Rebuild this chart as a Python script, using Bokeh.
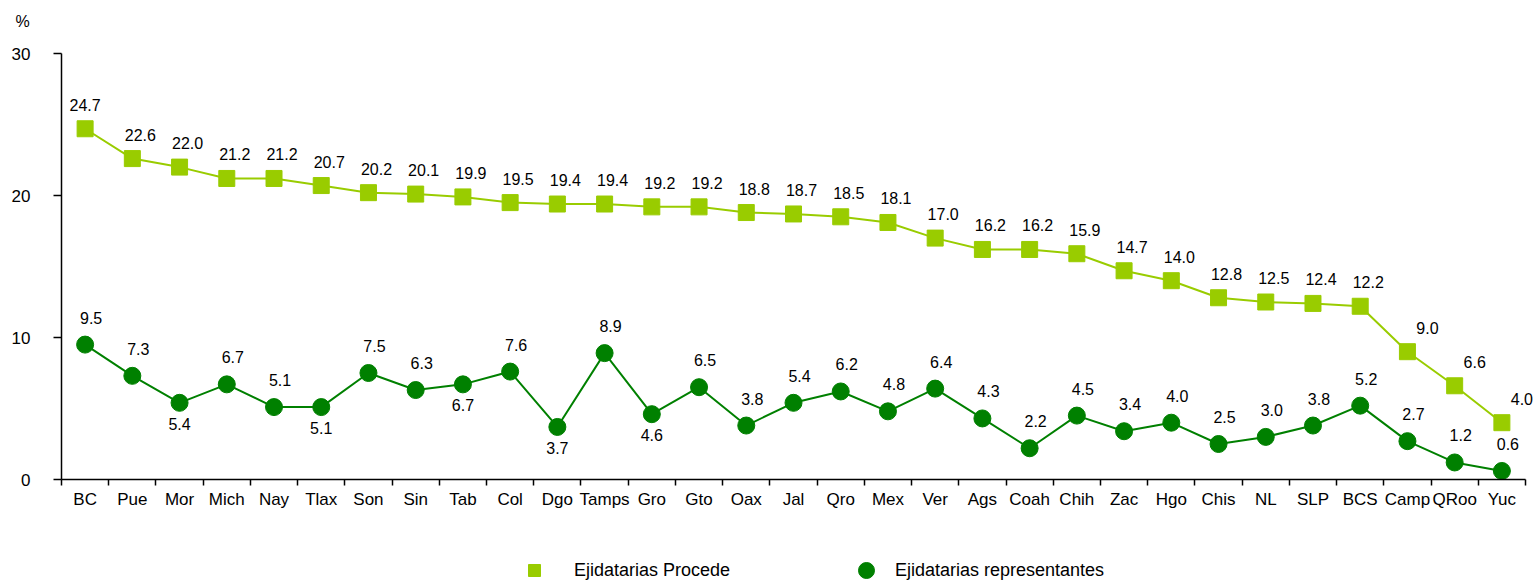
from bokeh.plotting import figure
from bokeh.models import (ColumnDataSource, LinearAxis, Range1d, FixedTicker, Label,
                          Legend, LegendItem)
from bokeh.embed import file_html
from bokeh.resources import INLINE
from bokeh.core.properties import value

states = ["BC", "Pue", "Mor", "Mich", "Nay", "Tlax", "Son", "Sin", "Tab", "Col", "Dgo",
          "Tamps", "Gro", "Gto", "Oax", "Jal", "Qro", "Mex", "Ver", "Ags", "Coah", "Chih",
          "Zac", "Hgo", "Chis", "NL", "SLP", "BCS", "Camp", "QRoo", "Yuc"]
procede = [24.7, 22.6, 22.0, 21.2, 21.2, 20.7, 20.2, 20.1, 19.9, 19.5, 19.4,
           19.4, 19.2, 19.2, 18.8, 18.7, 18.5, 18.1, 17.0, 16.2, 16.2, 15.9,
           14.7, 14.0, 12.8, 12.5, 12.4, 12.2, 9.0, 6.6, 4.0]
representantes = [9.5, 7.3, 5.4, 6.7, 5.1, 5.1, 7.5, 6.3, 6.7, 7.6, 3.7,
                  8.9, 4.6, 6.5, 3.8, 5.4, 6.2, 4.8, 6.4, 4.3, 2.2, 4.5,
                  3.4, 4.0, 2.5, 3.0, 3.8, 5.2, 2.7, 1.2, 0.6]
y_ticks = [0, 10, 20, 30]
series_names = ["Ejidatarias Procede", "Ejidatarias representantes"]

# label placement (style): dark-green labels shown below the point for these states
below_states = {"Mor", "Tlax", "Tab", "Dgo", "Gro"}
wide_right_states = {"Camp", "QRoo", "Yuc"}

LIGHT = "#99CC00"
DARK = "#008000"
FONT = "Liberation Sans"

W, H = 1534, 581
# plot area in canvas pixels (layout)
AX_LEFT, AX_RIGHT, AX_TOP, AX_BOTTOM = 61, 1525, 53, 479

n = len(states)
idx = list(range(n))
xpx = (AX_RIGHT - AX_LEFT) / n
x_start = -0.5 - AX_LEFT / xpx
x_end = n - 0.5 + (W - AX_RIGHT) / xpx
ypx = (AX_BOTTOM - AX_TOP) / 30.0
y_start = -(H - AX_BOTTOM) / ypx
y_end = 30 + AX_TOP / ypx

src_p = ColumnDataSource(dict(
    x=idx, y=procede, txt=[f"{v:.1f}" for v in procede],
    dx=[0 if s == "BC" else (20 if s in wide_right_states else 8) for s in states],
    dy=[-24] * n,
))
src_r = ColumnDataSource(dict(
    x=idx, y=representantes, txt=[f"{v:.1f}" for v in representantes],
    dx=[0 if s in below_states else 6 for s in states],
    dy=[21 if s in below_states else -27 for s in states],
))

p = figure(width=W, height=H, output_backend="svg", toolbar_location=None,
           x_axis_type=None, y_axis_type=None,
           x_range=Range1d(x_start, x_end), y_range=Range1d(y_start, y_end),
           min_border_left=0, min_border_right=0, min_border_top=0, min_border_bottom=0)
p.outline_line_color = None
p.xgrid.visible = False
p.ygrid.visible = False

# lines
p.line("x", "y", source=src_p, line_color=LIGHT, line_width=2)
p.line("x", "y", source=src_r, line_color=DARK, line_width=2)
sq = p.scatter("x", "y", source=src_p, marker="square", size=16,
               fill_color=LIGHT, line_color=LIGHT)
ci = p.scatter("x", "y", source=src_r, marker="circle", size=17,
               fill_color=DARK, line_color=DARK)

# value labels
for src in (src_p, src_r):
    p.text("x", "y", text="txt", source=src, x_offset="dx", y_offset="dy",
           text_align="center", text_baseline="middle",
           text_font=value(FONT), text_font_size="16px", text_color="#000000")

# axes
xaxis = LinearAxis(ticker=FixedTicker(ticks=idx, minor_ticks=[i - 0.5 for i in range(n + 1)]))
xaxis.fixed_location = 0
xaxis.bounds = (-0.5, n - 0.5)
xaxis.major_label_overrides = {i: s for i, s in enumerate(states)}
xaxis.major_tick_out = 0
xaxis.major_tick_in = 0
xaxis.minor_tick_out = 6
xaxis.minor_tick_in = 0
xaxis.minor_tick_line_color = "#000000"
xaxis.minor_tick_line_width = 1.5
xaxis.axis_line_color = "#000000"
xaxis.axis_line_width = 1.5
xaxis.major_label_standoff = 4
xaxis.major_label_text_font = FONT
xaxis.major_label_text_font_size = "17px"
xaxis.major_label_text_color = "#000000"
p.add_layout(xaxis, "below")

yaxis = LinearAxis(ticker=FixedTicker(ticks=y_ticks, minor_ticks=[]))
yaxis.fixed_location = -0.5
yaxis.bounds = (0, 30)
yaxis.major_tick_out = 8
yaxis.major_tick_in = 0
yaxis.major_tick_line_color = "#000000"
yaxis.major_tick_line_width = 1.5
yaxis.axis_line_color = "#000000"
yaxis.axis_line_width = 1.5
yaxis.major_label_standoff = 23
yaxis.major_label_text_font = FONT
yaxis.major_label_text_font_size = "17px"
yaxis.major_label_text_color = "#000000"
p.add_layout(yaxis, "left")

p.add_layout(Label(x=15, y=H - 21, x_units="screen", y_units="screen", text="%",
                   text_font=FONT, text_font_size="16px", text_baseline="middle",
                   text_color="#000000"))

# legends
leg1 = Legend(items=[LegendItem(label=series_names[0], renderers=[sq])],
              location=(519, -4), orientation="horizontal",
              glyph_width=30, glyph_height=30, label_standoff=25,
              padding=0, margin=0, border_line_color=None, background_fill_alpha=0,
              label_text_font=FONT, label_text_font_size="18px", label_text_color="#000000")
leg2 = Legend(items=[LegendItem(label=series_names[1], renderers=[ci])],
              location=(846, -9), orientation="horizontal",
              glyph_width=40, glyph_height=40, label_standoff=9,
              padding=0, margin=0, border_line_color=None, background_fill_alpha=0,
              label_text_font=FONT, label_text_font_size="18px", label_text_color="#000000")
p.add_layout(leg1)
p.add_layout(leg2)

open("out.html", "w").write(file_html(p, INLINE))
